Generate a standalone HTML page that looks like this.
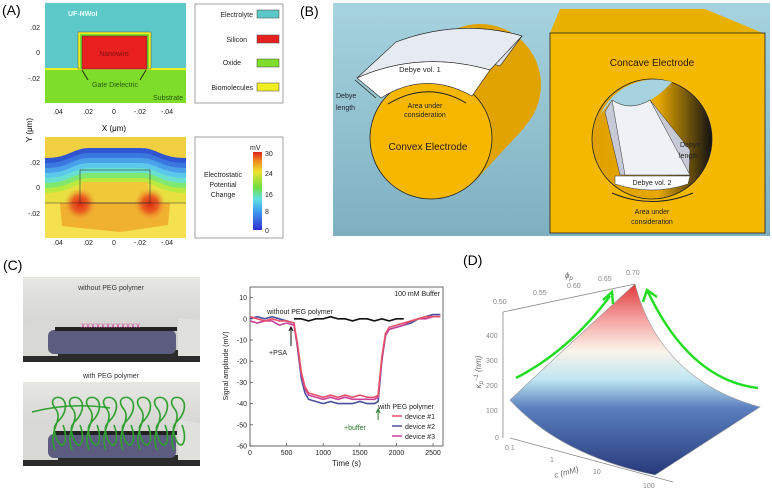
<!DOCTYPE html>
<html><head><meta charset="utf-8"><style>
body{margin:0;background:#fff;width:772px;height:491px;overflow:hidden;font-family:"Liberation Sans",sans-serif}
svg{position:absolute;left:0;top:0}
text{font-family:"Liberation Sans",sans-serif}
</style></head><body>
<svg width="772" height="491" viewBox="0 0 772 491">
<defs>
<linearGradient id="bgB" x1="0" y1="0" x2="0" y2="1"><stop offset="0" stop-color="#a6d3df"/><stop offset="1" stop-color="#7fb0c0"/></linearGradient>
<linearGradient id="surf" x1="0" y1="0" x2="0" y2="1"><stop offset="0" stop-color="#e03a3a"/><stop offset="0.18" stop-color="#f5a0a0"/><stop offset="0.35" stop-color="#fbf4ea"/><stop offset="0.5" stop-color="#bfe6f2"/><stop offset="0.65" stop-color="#5a7fbf"/><stop offset="1" stop-color="#27397a"/></linearGradient>
<linearGradient id="gray" x1="0" y1="0" x2="0" y2="1"><stop offset="0" stop-color="#e6e6e2"/><stop offset="1" stop-color="#c8c8c4"/></linearGradient>
<linearGradient id="cbar" x1="0" y1="1" x2="0" y2="0"><stop offset="0" stop-color="#3030d0"/><stop offset="0.25" stop-color="#40a0f0"/><stop offset="0.4" stop-color="#60e0e0"/><stop offset="0.55" stop-color="#70e040"/><stop offset="0.75" stop-color="#f0e030"/><stop offset="0.88" stop-color="#f09020"/><stop offset="1" stop-color="#e02020"/></linearGradient>
<linearGradient id="holeG" x1="0" y1="0" x2="1" y2="0"><stop offset="0" stop-color="#e0a000"/><stop offset="0.55" stop-color="#e8a800"/><stop offset="1" stop-color="#111"/></linearGradient>
<radialGradient id="hot"><stop offset="0" stop-color="#e02a10"/><stop offset="0.5" stop-color="#e86020"/><stop offset="1" stop-color="#f0a030" stop-opacity="0"/></radialGradient>
</defs>

<!-- Panel A -->
<g>
<text x="2" y="15" font-size="14">(A)</text>
<rect x="45" y="3" width="141" height="66" fill="#5cc8c8"/>
<rect x="45" y="69" width="141" height="34" fill="#7edc2a"/>
<rect x="45" y="68" width="141" height="2" fill="#f0f020"/>
<rect x="78" y="32" width="73" height="37" fill="#f0f020" stroke="#555" stroke-width="0.5"/>
<rect x="80" y="34" width="69" height="35" fill="#7edc2a"/>
<rect x="82" y="36" width="65" height="33" fill="#e82020" stroke="#333" stroke-width="0.5"/>
<text x="114" y="56" font-size="7" text-anchor="middle" fill="#801010">Nanowire</text>
<text x="68" y="16" font-size="7" fill="#e8ffff" font-weight="bold">UF-NWoI</text>
<text x="115" y="87" font-size="7" text-anchor="middle" fill="#2a5a10">Gate Dielectric</text>
<text x="183" y="100" font-size="7" text-anchor="end" fill="#2a5a10">Substrate</text>
<path d="M88,80 L82,70 M140,80 L146,70" stroke="#111" stroke-width="0.8"/>
<g font-size="7" fill="#222" text-anchor="end">
<text x="40" y="30">.02</text><text x="40" y="55">0</text><text x="40" y="81">-.02</text>
<text x="40" y="165">.02</text><text x="40" y="190">0</text><text x="40" y="216">-.02</text>
</g>
<g font-size="7" fill="#222" text-anchor="middle">
<text x="58" y="114">.04</text><text x="88" y="114">.02</text><text x="114" y="114">0</text><text x="140" y="114">-.02</text><text x="167" y="114">-.04</text>
<text x="58" y="245">.04</text><text x="88" y="245">.02</text><text x="114" y="245">0</text><text x="140" y="245">-.02</text><text x="167" y="245">-.04</text>
</g>
<text x="114" y="131" font-size="8" text-anchor="middle">X (μm)</text>
<text transform="translate(32,130) rotate(-90)" font-size="8" text-anchor="middle">Y (μm)</text>
<rect x="195" y="4" width="88" height="99" fill="#fff" stroke="#666" stroke-width="0.6"/>
<g font-size="7" fill="#222" text-anchor="end">
<text x="253" y="17">Electrolyte</text><text x="247" y="42">Silicon</text><text x="241" y="65">Oxide</text><text x="253" y="90">Biomolecules</text>
</g>
<rect x="257" y="10" width="22" height="8" fill="#5cc8c8" stroke="#444" stroke-width="0.5"/>
<rect x="257" y="35" width="22" height="8" fill="#e82020" stroke="#444" stroke-width="0.5"/>
<rect x="257" y="59" width="22" height="8" fill="#7edc2a" stroke="#444" stroke-width="0.5"/>
<rect x="257" y="83" width="22" height="8" fill="#f0f020" stroke="#444" stroke-width="0.5"/>
<clipPath id="cpA"><rect x="45" y="137" width="141" height="101"/></clipPath>
<g clip-path="url(#cpA)">
<rect x="45" y="137" width="141" height="101" fill="#f0d040"/>
<g id="bands"></g>
<rect x="45" y="203" width="141" height="35" fill="#f5e050"/>
<path d="M60,203 L170,203 L168,225 L120,232 L62,226 Z" fill="#f0b030"/>
<circle cx="80" cy="204" r="16" fill="url(#hot)"/>
<circle cx="150" cy="204" r="16" fill="url(#hot)"/>
<rect x="80" y="170" width="70" height="33" fill="none" stroke="#333" stroke-width="0.6"/>
<line x1="45" y1="203" x2="186" y2="203" stroke="#333" stroke-width="0.6"/>
</g>
<rect x="195" y="137" width="88" height="101" fill="#fff" stroke="#666" stroke-width="0.6"/>
<rect x="253" y="152" width="9" height="78" fill="url(#cbar)"/>
<g font-size="7" fill="#222">
<text x="250" y="150">mV</text>
<text x="265" y="156">30</text><text x="265" y="176">24</text><text x="265" y="197">16</text><text x="265" y="214">8</text><text x="265" y="233">0</text>
</g>
<g font-size="7" fill="#222" text-anchor="middle">
<text x="223" y="177">Electrostatic</text><text x="223" y="187">Potential</text><text x="223" y="197">Change</text>
</g>
</g>

<!-- Panel B -->
<g>
<text x="300" y="16" font-size="14">(B)</text>
<rect x="333" y="3" width="437" height="233" fill="url(#bgB)"/>
<!-- convex cylinder -->
<circle cx="480" cy="85" r="61" fill="#e0a300"/>
<path d="M386,97 L435,44 L525,127 L476,180 Z" fill="#e0a300"/>
<path d="M396,42 Q460,18 522,36 L500,66 Q440,48 402,62 Z" fill="#dfe4ec" stroke="#222" stroke-width="0.6"/>
<circle cx="431" cy="138" r="61" fill="#f5b700" stroke="#222" stroke-width="0.8"/>
<path d="M357,78 L396,42 Q460,18 522,36 L490,70 Q420,50 357,78 Z" fill="#e6eaf1" stroke="#222" stroke-width="0.6"/>
<path d="M357,78 Q420,50 490,70 L472,96 Q425,70 381,98 Z" fill="#fff" stroke="#222" stroke-width="0.6"/>
<text x="420" y="72" font-size="7.5" text-anchor="middle" fill="#222">Debye vol. 1</text>
<path d="M388,104 Q428,80 466,103" fill="none" stroke="#222" stroke-width="1"/>
<text x="425" y="108" font-size="7" text-anchor="middle" fill="#222">Area under</text>
<text x="425" y="117" font-size="7" text-anchor="middle" fill="#222">consideration</text>
<text x="428" y="150" font-size="10" text-anchor="middle" fill="#2a1a00">Convex Electrode</text>
<path d="M355,80 L376,98" stroke="#222" stroke-width="0.8"/>
<text x="336" y="98" font-size="7" fill="#223">Debye</text><text x="336" y="110" font-size="7" fill="#223">length</text>
<!-- concave cube -->
<path d="M550,33 L560,9 L705,9 L765,34 Z" fill="#e8b000"/>
<rect x="550" y="33" width="215" height="200" fill="#f5b800" stroke="#222" stroke-width="0.8"/>
<circle cx="652" cy="139" r="60" fill="url(#holeG)" stroke="#222" stroke-width="0.8"/>
<path d="M600,115 A60,60 0 0 1 672,82 Q660,95 650,100 Q630,112 612,100 Z" fill="#a6d3df"/>
<path d="M605,112 L612,100 Q630,112 650,100 L690,150 L689,175 L620,175 Z" fill="#c5cad6" stroke="#333" stroke-width="0.5"/>
<path d="M612,100 Q630,112 650,100 L690,175 L625,175 Z" fill="#eef1f6" stroke="#333" stroke-width="0.5"/>
<path d="M615,176 L690,176 L688,184 Q652,196 615,184 Z" fill="#fff" stroke="#333" stroke-width="0.5"/>
<text x="652" y="185" font-size="7" text-anchor="middle" fill="#222">Debye vol. 2</text>
<text x="652" y="66" font-size="10" text-anchor="middle" fill="#2a1a00">Concave Electrode</text>
<text x="680" y="147" font-size="7" fill="#222">Debye</text><text x="679" y="158" font-size="7" fill="#222">length</text>
<path d="M612,193 Q652,210 693,193" fill="none" stroke="#222" stroke-width="1"/>
<text x="652" y="214" font-size="7" text-anchor="middle" fill="#222">Area under</text>
<text x="652" y="224" font-size="7" text-anchor="middle" fill="#222">consideration</text>
</g>

<!-- Panel C -->
<g>
<text x="3" y="270" font-size="14">(C)</text>
<g>
<rect x="23" y="277" width="177" height="85" fill="url(#gray)"/>
<rect x="23" y="350" width="177" height="12" fill="#2a2a2a"/>
<path d="M23,322 L55,318 L58,356 L23,356 Z" fill="#d8d8d4"/><path d="M200,320 L178,318 L178,356 L200,356 Z" fill="#e0e0dc"/>
<rect x="48" y="330" width="128" height="24" rx="6" fill="#5c5c80"/>
<rect x="55" y="327" width="122" height="4" fill="#222"/>
<text x="111" y="290" font-size="7" text-anchor="middle" fill="#333">without PEG polymer</text>
<text x="111" y="328" font-size="8" text-anchor="middle" fill="#d040a0" letter-spacing="1">xxxxxxxxxxxx</text>
</g>
<text x="111" y="378" font-size="7" text-anchor="middle" fill="#333">with PEG polymer</text>
<g>
<rect x="23" y="382" width="177" height="84" fill="url(#gray)"/>
<rect x="23" y="455" width="177" height="11" fill="#2a2a2a"/>
<path d="M23,425 L55,421 L58,460 L23,460 Z" fill="#d8d8d4"/><path d="M200,423 L178,420 L178,460 L200,460 Z" fill="#e0e0dc"/>
<rect x="48" y="434" width="128" height="24" rx="6" fill="#5c5c80"/>
<rect x="55" y="431" width="122" height="4" fill="#222"/>
<g id="peg" fill="none" stroke="#2ea02e" stroke-width="1.6"></g>
</g>
</g>

<g id="chartC"></g>

<!-- Panel D -->
<g>
<text x="463" y="265" font-size="14">(D)</text>
<path d="M503,312 L635,284" stroke="#888" stroke-width="0.8"/>
<path d="M503,312 L503,438" stroke="#888" stroke-width="0.8"/>
<path d="M510,438 L673,482" stroke="#888" stroke-width="0.8"/>
<path d="M510,400 Q585,330 635,284 Q660,380 760,407 L655,475 Q560,455 510,400 Z" fill="url(#surf)" stroke="#999" stroke-width="0.6"/>
<g fill="#888" font-size="7">
<text x="493" y="304">0.50</text><text x="533" y="295">0.55</text><text x="567" y="288">0.60</text><text x="598" y="281">0.65</text><text x="626" y="275">0.70</text>
<text x="486" y="338">400</text><text x="486" y="363">300</text><text x="486" y="388">200</text><text x="486" y="413">100</text><text x="495" y="440">0</text>
<text x="505" y="450">0.1</text><text x="550" y="462">1</text><text x="593" y="474">10</text><text x="643" y="488">100</text>
</g>
<text x="565" y="278" font-size="8" font-style="italic" fill="#666">ϕ<tspan font-size="6" dy="2">p</tspan></text>
<text transform="translate(481,372) rotate(-90)" font-size="8" font-style="italic" fill="#666" text-anchor="middle">κ<tspan font-size="6" dy="2">p</tspan><tspan font-size="6" dy="-5">−1</tspan><tspan dy="3"> (nm)</tspan></text>
<text transform="translate(555,478) rotate(-15)" font-size="8" font-style="italic" fill="#666">c (mM)</text>
<path d="M516,378 Q570,350 610,296" fill="none" stroke="#22dd22" stroke-width="2.5"/>
<path d="M603,300 L612,292 L613,304" fill="none" stroke="#22dd22" stroke-width="2.5"/>
<path d="M758,388 Q690,380 648,292" fill="none" stroke="#22dd22" stroke-width="2.5"/>
<path d="M643,302 L647,290 L657,297" fill="none" stroke="#22dd22" stroke-width="2.5"/>
</g>
</svg>
<script>
const NS="http://www.w3.org/2000/svg";
function mk(t,a,p){const e=document.createElementNS(NS,t);for(const k in a)e.setAttribute(k,a[k]);p.appendChild(e);return e;}
const bandCols=["#2f55d0","#3a78e0","#4aa0ea","#5cc8ea","#6ae0d0","#80e870","#b8ea40","#e8e040"];
const bg=document.getElementById('bands');
bandCols.forEach((c,i)=>{const o=i*5;
 mk('path',{d:`M45,${158+o} C70,${158+o} 72,${148+o} 90,${148+o} L140,${148+o} C158,${148+o} 160,${158+o} 186,${158+o} L186,240 L45,240 Z`,fill:c},bg);});
mk('rect',{x:82,y:182,width:66,height:22,fill:'#f0c838'},bg);
const pg=document.getElementById('peg');
for(let i=0;i<8;i++){const x=55+i*17;
 mk('path',{d:`M${x},450 C${x-8},430 ${x+10},420 ${x},408 C${x-10},395 ${x+14},392 ${x+10},410 C${x+6},425 ${x-6},420 ${x+2},440 C${x+8},452 ${x+14},440 ${x+8},425`},pg);}
mk('path',{d:'M32,412 Q70,402 110,408'},pg);

// Chart C data
const times=[0,100,200,300,400,500,600,650,700,750,800,900,1000,1100,1200,1300,1400,1500,1600,1700,1750,1800,1850,1900,2000,2100,2200,2300,2400,2500,2600];
const device1=[1,0,-1,0,-1,-1,-2,-12,-25,-32,-35,-36,-37,-36,-37,-36,-37,-36,-37,-37,-36,-18,-7,-4,-3,-2,-1,0,1,1,1];
const device2=[0,1,0,1,0,-1,-2,-14,-28,-35,-38,-39,-40,-39,-40,-40,-40,-39,-40,-40,-39,-20,-8,-5,-4,-3,-2,0,1,2,2];
const device3=[-1,-2,-1,-1,-3,-2,-3,-13,-26,-33,-36,-37,-38,-37,-38,-37,-38,-38,-38,-38,-37,-19,-8,-5,-4,-3,-1,0,0,1,1];
const noPEGtimes=[600,700,800,900,1000,1100,1200,1300,1400,1500,1600,1700,1800,1900,2000,2100];
const noPEG=[0,0,-1,0,0,1,0,0,-1,0,0,-1,0,-1,0,0];
const xTicks=[0,500,1000,1500,2000,2500];
const yTicks=[10,0,-10,-20,-30,-40,-50,-60];
const L=250,R=443,T=287,B=446,XMAX=2636,YMIN=-60,YMAX=15;
const xs=v=>L+v/XMAX*(R-L), ys=v=>B-(v-YMIN)/(YMAX-YMIN)*(B-T);
const g=document.getElementById('chartC');
let r=mk('rect',{x:L,y:T,width:R-L,height:B-T,fill:'#fff',stroke:'#444','stroke-width':0.8},g);


xTicks.forEach(v=>{mk('line',{x1:xs(v),x2:xs(v),y1:B,y2:B-3,stroke:'#444','stroke-width':0.7},g);
 const t=mk('text',{x:xs(v),y:B+9,'font-size':7,'text-anchor':'middle',fill:'#222'},g);t.textContent=v;
 
 });
yTicks.forEach(v=>{mk('line',{x1:L,x2:L+3,y1:ys(v),y2:ys(v),stroke:'#444','stroke-width':0.7},g);
 const t=mk('text',{x:L-3,y:ys(v)+2.5,'font-size':7,'text-anchor':'end',fill:'#222'},g);t.textContent=v;
 
 });
let t=mk('text',{x:(L+R)/2,y:B+20,'font-size':8,'text-anchor':'middle',fill:'#222'},g);t.textContent='Time (s)';


t=mk('text',{transform:'translate(228,366) rotate(-90)','font-size':7,'text-anchor':'middle',fill:'#222'},g);t.textContent='Signal amplitude (mV)';


function line(tx,vals,col,name){const p=mk('polyline',{points:tx.map((x,i)=>xs(x)+','+ys(vals[i])).join(' '),fill:'none',stroke:col,'stroke-width':1.6},g);
 
 }
line(times,device2,'#4a4f9a','series-device-2');
line(times,device3,'#c8409a','series-device-3');
line(times,device1,'#e8506a','series-device-1');
line(noPEGtimes,noPEG,'#111','series-without-peg');
const txt=(x,y,s,o)=>{const e=mk('text',Object.assign({x:x,y:y,'font-size':7,fill:'#222'},o||{}),g);e.textContent=s;return e;};
txt(R-3,T+9,'100 mM Buffer',{'text-anchor':'end'});
txt(300,T+27,'without PEG polymer',{'text-anchor':'middle'});
txt(269,355,'+PSA');
mk('path',{d:`M${xs(560)},346 L${xs(560)},328 M${xs(560)-2},331 L${xs(560)},327 L${xs(560)+2},331`,stroke:'#111','stroke-width':1,fill:'none'},g);
txt(344,430,'+buffer',{fill:'#2a7a2a'});
mk('path',{d:`M${xs(1750)},420 L${xs(1750)},410 M${xs(1750)-2},413 L${xs(1750)},409 L${xs(1750)+2},413`,stroke:'#2a7a2a','stroke-width':1,fill:'none'},g);
const lg=mk('g',{},g);


txt(378,409,'with PEG polymer');
[['#e8506a','device #1'],['#4a4f9a','device #2'],['#c8409a','device #3']].forEach((d,i)=>{
 mk('line',{x1:392,x2:402,y1:416+i*10,y2:416+i*10,stroke:d[0],'stroke-width':1.5},lg);
 const e=mk('text',{x:405,y:419+i*10,'font-size':7,fill:'#222'},lg);e.textContent=d[1];});
</script>
</body></html>
